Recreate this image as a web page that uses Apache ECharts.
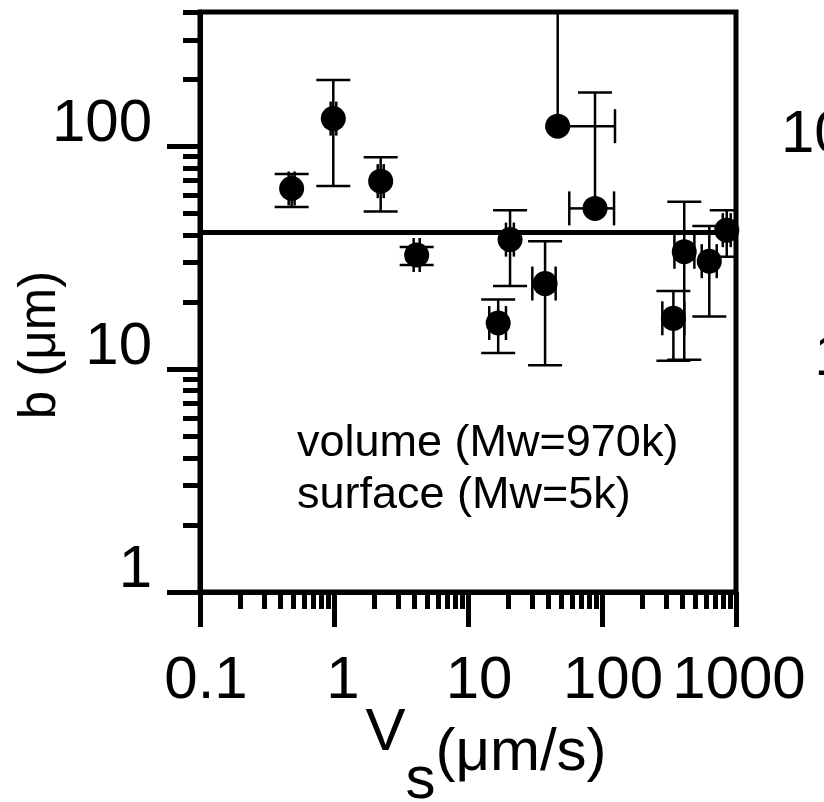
<!DOCTYPE html>
<html><head><meta charset="utf-8">
<script src="https://cdn.jsdelivr.net/npm/echarts@6/dist/echarts.min.js"></script>
<style>html,body{margin:0;padding:0;background:#fff}#c{width:824px;height:802px}</style>
</head><body><div id="c"></div>
<script>
// ---- data ----
const vs     = [0.483, 0.988, 2.23, 4.14, 16.8, 20.6, 37.6, 46.7, 88.7, 341, 411, 632, 853];
const b      = [64.6, 133, 69.7, 32.5, 16.1, 38.1, 24.2, 123, 52.6, 16.9, 33.6, 30.5, 42.0];
const vsLow  = [0.459, 0.944, 2.12, 3.93, 14.4, 19.2, 30.2, null, 57.0, 282, 347, 555, 797];
const vsHigh = [0.508, 1.04, 2.35, 4.36, 19.2, 22.0, 45.1, 125, 123, 411, 489, 718, 913];
const bLow   = [53.3, 66.3, 51.0, 29.3, 11.8, 23.6, 10.4, null, null, 10.9, 11.0, 17.2, 31.9];
const bHigh  = [75.1, 198, 89.3, 35.3, 20.5, 51.6, 37.5, 600, 174, 22.4, 56.3, 43.8, 51.6];
const fitB = 41;
const xMajor  = [0.1, 1, 10, 100, 1000];
const xLabels = ['0.1', '1', '10', '100', '1000'];
const xMinor  = [0.2, 0.3, 0.4, 0.5, 0.6, 0.7, 0.8, 0.9, 2, 3, 4, 5, 6, 7, 8, 9,
                 20, 30, 40, 50, 60, 70, 80, 90, 200, 300, 400, 500, 600, 700, 800, 900];
const yMajor  = [1, 10, 100];
const yLabels = ['1', '10', '100'];
const yMinor  = [2, 3, 4, 5, 6, 7, 8, 9, 20, 30, 40, 50, 60, 70, 80, 90, 200, 300, 400];
const neighbourLabels = ['100', '10'];
const neighbourValues = [100, 10];
const legendLines = ['volume (Mw=970k)', 'surface (Mw=5k)'];

// ---- style ----
const FONT = '"Liberation Sans", Arial, Helvetica, sans-serif';
const black = '#000';
const tickStyle = {color: black, width: 5, opacity: 1};
const CAP = 17, LW = 2.5;
const xLabelShift = [12, 18, 22, 22, 6];   // left padding per label (px), label layout only

const chart = echarts.init(document.getElementById('c'), null, {renderer: 'canvas'});
function tickIndex(ticks, v) {
  return ticks.findIndex(t => Math.abs(Math.log10(t) - Math.log10(v)) < 1e-6);
}
const xRich = {};
xLabelShift.forEach((p, i) => {
  xRich['l' + i] = {fontFamily: FONT, fontSize: 60, color: black, lineHeight: 44, padding: [0, 0, 0, p]};
});
function seg(x1, y1, x2, y2) {
  return {type: 'line', shape: {x1, y1, x2, y2}, style: {stroke: black, lineWidth: LW}};
}
function renderErr(params, api) {
  const i = params.dataIndex;
  const c = api.coord([vs[i], b[i]]);
  const ch = [];
  if (bHigh[i] != null) { const p = api.coord([vs[i], bHigh[i]]); ch.push(seg(c[0], c[1], c[0], p[1]), seg(c[0] - CAP, p[1], c[0] + CAP, p[1])); }
  if (bLow[i] != null)  { const p = api.coord([vs[i], bLow[i]]);  ch.push(seg(c[0], c[1], c[0], p[1]), seg(c[0] - CAP, p[1], c[0] + CAP, p[1])); }
  if (vsHigh[i] != null){ const p = api.coord([vsHigh[i], b[i]]); ch.push(seg(c[0], c[1], p[0], c[1]), seg(p[0], c[1] - CAP, p[0], c[1] + CAP)); }
  if (vsLow[i] != null) { const p = api.coord([vsLow[i], b[i]]);  ch.push(seg(c[0], c[1], p[0], c[1]), seg(p[0], c[1] - CAP, p[0], c[1] + CAP)); }
  return {type: 'group', children: ch};
}
const points = vs.map((v, i) => [v, b[i]]);

const option = {
  animation: false,
  backgroundColor: '#fff',
  title: {
    text: legendLines.join('\n'),
    left: 292, top: 413,
    textStyle: {fontFamily: FONT, fontSize: 45, lineHeight: 52, fontWeight: 'normal', color: black}
  },
  grid: {left: 200, right: 88, top: 12, bottom: 210, containLabel: false, outerBoundsMode: 'none',
         show: true, borderColor: black, borderWidth: 5, backgroundColor: 'transparent'},
  xAxis: [{
    type: 'log', logBase: 10, min: 0.1, max: 1000, position: 'bottom',
    axisLine: {show: true, onZero: false, lineStyle: tickStyle},
    axisTick: {show: true, customValues: xMajor, length: 35, lineStyle: tickStyle},
    minorTick: {show: false}, splitLine: {show: false},
    axisLabel: {customValues: xMajor,
                formatter: v => { const i = tickIndex(xMajor, v); return i >= 0 ? '{l' + i + '|' + xLabels[i] + '}' : ''; },
                rich: xRich, fontFamily: FONT, fontSize: 60, color: black,
                margin: 67, verticalAlign: 'top', lineHeight: 44,
                hideOverlap: false, showMinLabel: true, showMaxLabel: true},
    name: '{v|V}{s|s}{u|(μm/s)}', nameLocation: 'middle', nameGap: 111, nameMoveOverlap: false,
    nameTextStyle: {fontFamily: FONT, fontSize: 60, color: black, padding: [0, 0, 0, 36],
      rich: {
        v: {fontFamily: FONT, fontSize: 60, color: black, padding: [0, 0, 48, 0], verticalAlign: 'bottom'},
        s: {fontFamily: FONT, fontSize: 60, color: black, verticalAlign: 'bottom'},
        u: {fontFamily: FONT, fontSize: 60, color: black, padding: [0, 0, 28, 0], verticalAlign: 'bottom'}
      }}
  }, {
    type: 'log', logBase: 10, min: 0.1, max: 1000, position: 'bottom',
    axisLine: {show: false, onZero: false},
    axisTick: {show: true, customValues: xMinor, length: 17, lineStyle: tickStyle},
    axisLabel: {show: false}, splitLine: {show: false}, minorTick: {show: false}
  }],
  yAxis: [{
    type: 'log', logBase: 10, min: 1, max: 400, position: 'left',
    axisLine: {show: true, onZero: false, lineStyle: tickStyle},
    axisTick: {show: true, customValues: yMajor, length: 33, lineStyle: tickStyle},
    minorTick: {show: false}, splitLine: {show: false},
    axisLabel: {customValues: yMajor, formatter: v => { const i = tickIndex(yMajor, v); return i >= 0 ? yLabels[i] : ''; },
                fontFamily: FONT, fontSize: 60, color: black,
                margin: 48, verticalAlign: 'bottom', lineHeight: 44, hideOverlap: false, showMinLabel: true, showMaxLabel: true},
    name: 'b (μm)', nameLocation: 'middle', nameGap: 134, nameRotate: 90, nameMoveOverlap: false,
    nameTextStyle: {fontFamily: FONT, fontSize: 51, color: black, padding: [0, 86, 0, 0]}
  }, {
    type: 'log', logBase: 10, min: 1, max: 400, position: 'left',
    axisLine: {show: false, onZero: false},
    axisTick: {show: true, customValues: yMinor, length: 17, lineStyle: tickStyle},
    axisLabel: {show: false}, splitLine: {show: false}, minorTick: {show: false}
  }],
  series: [{
    type: 'custom', name: 'error bars', xAxisIndex: 0, yAxisIndex: 0,
    data: points, encode: {x: 0, y: 1}, renderItem: renderErr, clip: true, z: 2, silent: true
  }, {
    type: 'scatter', name: 'b', xAxisIndex: 0, yAxisIndex: 0,
    data: points, symbol: 'circle', symbolSize: 25, itemStyle: {color: black, opacity: 1}, z: 3, silent: true,
    markLine: {silent: true, symbol: 'none', label: {show: false}, lineStyle: {color: black, width: 5, type: 'solid', opacity: 1},
               data: [{yAxis: fitB}]}
  }]
};
chart.setOption(option);

// clipped tick labels of the neighbouring panel, placed with the same y scale
chart.setOption({
  graphic: neighbourLabels.map((t, i) => ({
    type: 'text', silent: true,
    x: 881, y: chart.convertToPixel({yAxisIndex: 0}, neighbourValues[i]) + 11,
    style: {text: t, fill: black, font: '60px ' + FONT, align: 'right', textAlign: 'right', verticalAlign: 'bottom', lineHeight: 44}
  }))
});
</script>
</body></html>
